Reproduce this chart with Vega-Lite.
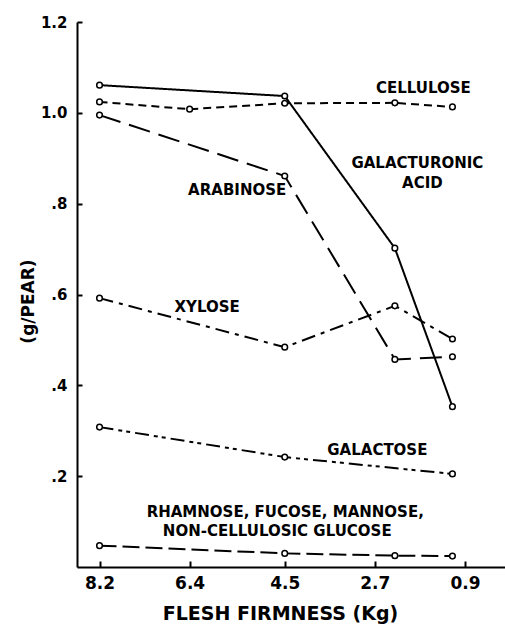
{
  "$schema": "https://vega.github.io/schema/vega-lite/v6.json",
  "width": 429,
  "height": 545,
  "autosize": {"type": "none"},
  "padding": {"left": 77, "top": 22, "right": 0, "bottom": 57},
  "background": "white",
  "config": {"view": {"stroke": null}, "font": "DejaVu Sans"},
  "datasets": {
    "series": [
      {"series": "Galacturonic acid", "firmness": 8.2, "value": 1.061},
      {"series": "Galacturonic acid", "firmness": 4.5, "value": 1.037},
      {"series": "Galacturonic acid", "firmness": 2.3, "value": 0.702},
      {"series": "Galacturonic acid", "firmness": 1.15, "value": 0.353},
      {"series": "Cellulose", "firmness": 8.2, "value": 1.024},
      {"series": "Cellulose", "firmness": 6.4, "value": 1.008},
      {"series": "Cellulose", "firmness": 4.5, "value": 1.021},
      {"series": "Cellulose", "firmness": 2.3, "value": 1.022},
      {"series": "Cellulose", "firmness": 1.15, "value": 1.013},
      {"series": "Arabinose", "firmness": 8.2, "value": 0.995},
      {"series": "Arabinose", "firmness": 4.5, "value": 0.861},
      {"series": "Arabinose", "firmness": 2.3, "value": 0.457},
      {"series": "Arabinose", "firmness": 1.15, "value": 0.463},
      {"series": "Xylose", "firmness": 8.2, "value": 0.592},
      {"series": "Xylose", "firmness": 4.5, "value": 0.484},
      {"series": "Xylose", "firmness": 2.3, "value": 0.575},
      {"series": "Xylose", "firmness": 1.15, "value": 0.502},
      {"series": "Galactose", "firmness": 8.2, "value": 0.308},
      {"series": "Galactose", "firmness": 4.5, "value": 0.242},
      {"series": "Galactose", "firmness": 1.15, "value": 0.205},
      {"series": "Minor", "firmness": 8.2, "value": 0.047},
      {"series": "Minor", "firmness": 4.5, "value": 0.030},
      {"series": "Minor", "firmness": 2.3, "value": 0.025},
      {"series": "Minor", "firmness": 1.15, "value": 0.024}
    ],
    "labels": [
      {"text": "CELLULOSE", "firmness": 1.73, "value": 1.055},
      {"text": "GALACTURONIC", "firmness": 1.85, "value": 0.889},
      {"text": "ACID", "firmness": 1.75, "value": 0.845},
      {"text": "ARABINOSE", "firmness": 5.45, "value": 0.831},
      {"text": "XYLOSE", "firmness": 6.05, "value": 0.572},
      {"text": "GALACTOSE", "firmness": 2.65, "value": 0.258},
      {"text": "RHAMNOSE, FUCOSE, MANNOSE,", "firmness": 4.49, "value": 0.121},
      {"text": "NON-CELLULOSIC GLUCOSE", "firmness": 4.65, "value": 0.079}
    ]
  },
  "layer": [
    {
      "mark": {"type": "rule", "color": "black", "strokeWidth": 2},
      "encoding": {
        "y": {"datum": 1.2, "type": "quantitative", "scale": {"domain": [0, 1.2], "nice": false, "zero": false}}
      }
    },
    {
      "data": {"name": "series"},
      "mark": {"type": "line", "color": "black", "strokeWidth": 2},
      "encoding": {
        "x": {
          "field": "firmness", "type": "quantitative",
          "scale": {"domain": [0.08, 8.65], "reverse": true, "nice": false, "zero": false},
          "axis": {
            "values": [8.2, 6.4, 4.5, 2.7, 0.9], "format": ".1f",
            "title": "FLESH FIRMNESS (Kg)",
            "titleFont": "DejaVu Sans", "titleFontSize": 19, "titleFontWeight": "bold", "titleColor": "black",
            "titleX": 203, "titleY": 46, "titleBaseline": "middle", "titleAnchor": "middle", "titleAlign": "center",
            "labelFont": "DejaVu Sans", "labelFontSize": 17, "labelFontWeight": "bold", "labelColor": "black",
            "labelPadding": 14, "labelFlush": false, "labelOverlap": false,
            "domainColor": "black", "domainWidth": 2,
            "tickColor": "black", "tickWidth": 2, "tickSize": -6,
            "grid": false
          }
        },
        "y": {
          "field": "value", "type": "quantitative",
          "scale": {"domain": [0, 1.2], "nice": false, "zero": false},
          "axis": {
            "values": [0.2, 0.4, 0.6, 0.8, 1.0, 1.2],
            "labelExpr": "datum.value >= 1 ? format(datum.value, '.1f') : replace(format(datum.value, '.1f'), '0.', '.')",
            "title": "(g/PEAR)",
            "titleFont": "DejaVu Sans", "titleFontSize": 17, "titleFontWeight": "bold", "titleColor": "black",
            "titleAngle": -90, "titleX": -49, "titleY": 279, "titleBaseline": "middle", "titleAlign": "center",
            "labelFont": "DejaVu Sans", "labelFontSize": 15, "labelFontWeight": "bold", "labelColor": "black",
            "labelPadding": 15, "labelFlush": false, "labelOverlap": false,
            "domainColor": "black", "domainWidth": 2,
            "tickColor": "black", "tickWidth": 2, "tickSize": -5,
            "grid": false
          }
        },
        "strokeDash": {
          "field": "series", "type": "nominal", "legend": null,
          "scale": {
            "domain": ["Galacturonic acid", "Cellulose", "Arabinose", "Xylose", "Galactose", "Minor"],
            "range": [[1, 0], [8, 5], [22, 9], [14, 6, 4, 6], [14, 5, 4, 4, 4, 5], [17, 6]]
          }
        }
      }
    },
    {
      "data": {"name": "series"},
      "mark": {"type": "point", "shape": "circle", "filled": true, "fill": "white", "stroke": "black", "strokeWidth": 1.5, "size": 32, "opacity": 1},
      "encoding": {
        "x": {"field": "firmness", "type": "quantitative"},
        "y": {"field": "value", "type": "quantitative"}
      }
    },
    {
      "data": {"name": "labels"},
      "mark": {"type": "text", "font": "DejaVu Sans", "fontWeight": "bold", "fontSize": 15, "color": "black", "align": "center", "baseline": "middle"},
      "encoding": {
        "x": {"field": "firmness", "type": "quantitative"},
        "y": {"field": "value", "type": "quantitative"},
        "text": {"field": "text", "type": "nominal"}
      }
    }
  ]
}
